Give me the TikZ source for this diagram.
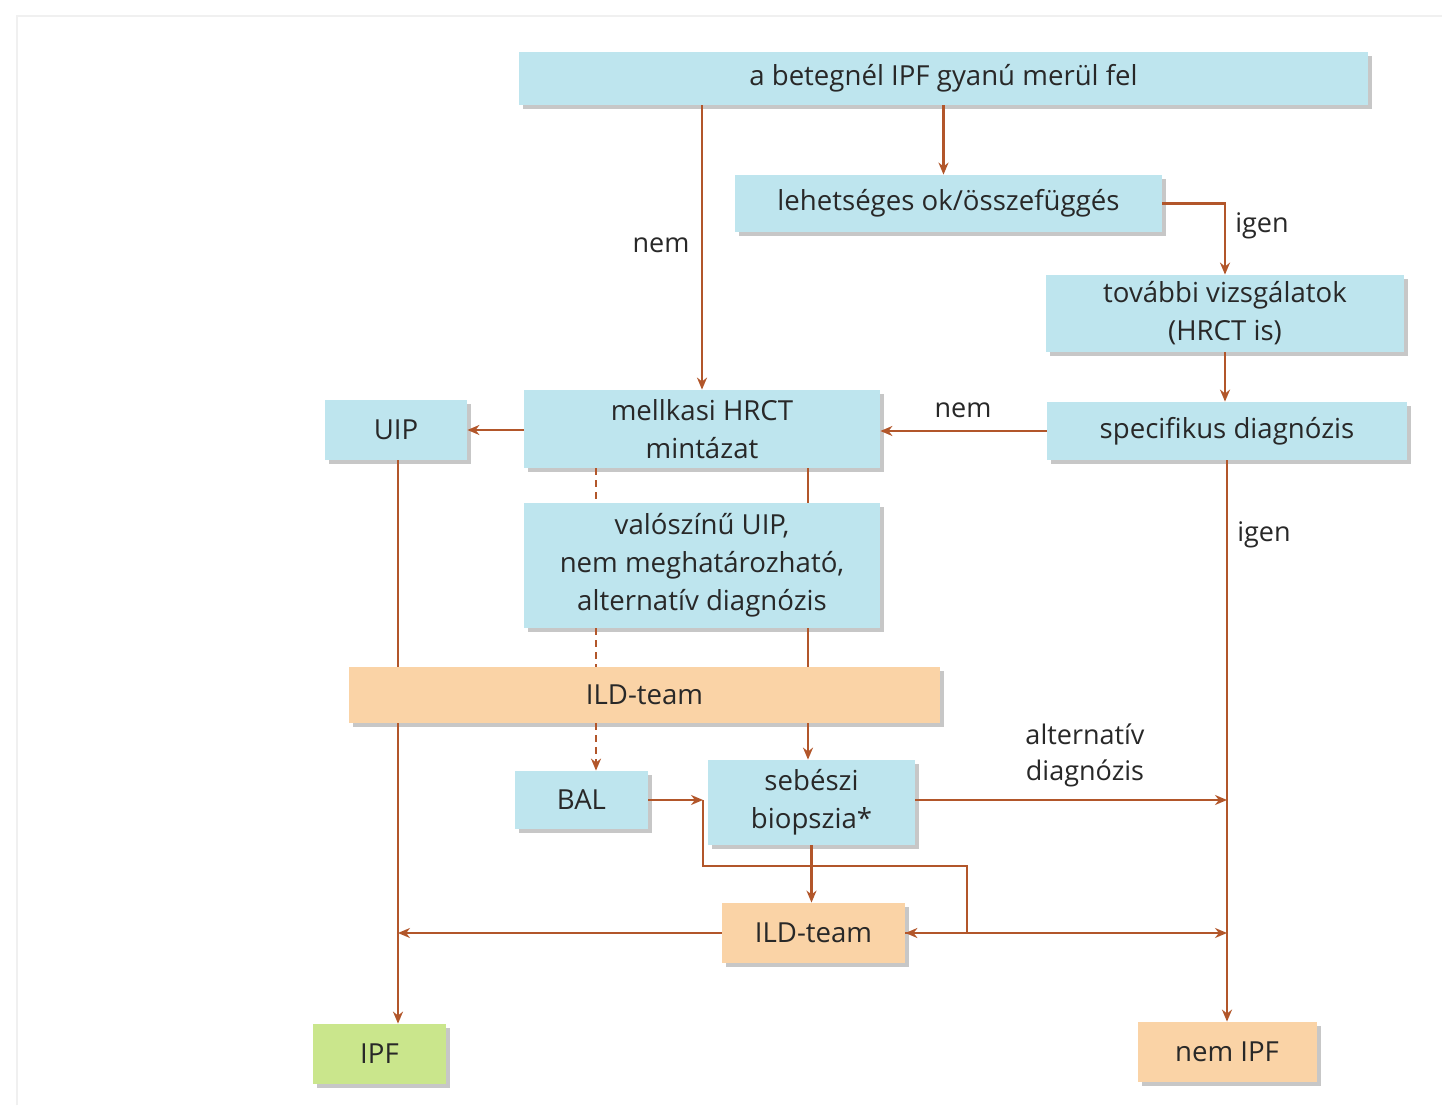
\documentclass[tikz,border=0pt]{standalone}
\usepackage{fontspec}
\setmainfont{Open Sans}
\usetikzlibrary{arrows.meta,shadows}
\definecolor{boxblue}{RGB}{190,229,238}
\definecolor{boxorange}{RGB}{250,211,166}
\definecolor{boxgreen}{RGB}{202,230,140}
\definecolor{linebrown}{RGB}{178,86,42}
\definecolor{txt}{RGB}{40,40,40}
\tikzset{
  base/.style={rectangle, inner sep=0pt, align=center, text=txt,
    font=\fontsize{13.8}{19}\selectfont,
    drop shadow={shadow xshift=2pt, shadow yshift=-2pt, fill=gray!55, opacity=0.8}},
  bluebox/.style={base, fill=boxblue},
  orangebox/.style={base, fill=boxorange},
  greenbox/.style={base, fill=boxgreen},
  conn/.style={draw=linebrown, line width=1.4pt},
  arr/.style={conn, -{Stealth[length=6pt,width=5pt]}},
  dconn/.style={conn, dash pattern=on 3.5pt off 2.5pt},
  darr/.style={dconn, -{Stealth[length=6pt,width=5pt]}},
  lbl/.style={text=txt, font=\fontsize{13.5}{18}\selectfont, align=center, inner sep=0pt}
}
\begin{document}
\begin{tikzpicture}[x=0.5pt,y=-0.5pt]
\useasboundingbox (0,0) rectangle (1442,1112);
\fill[white] (0,0) rectangle (1442,1112);
\draw[gray!12, line width=1pt] (17,1105) -- (17,16) -- (1442,16);

% nodes
\node[bluebox, minimum width=424.5pt, minimum height=26.5pt] (top) at (943.5,78.5) {a betegnél IPF gyanú merül fel};
\node[bluebox, minimum width=213.5pt, minimum height=28.5pt] (lehet) at (948.5,203.5) {lehetséges ok/összefüggés};
\node[bluebox, minimum width=179pt, minimum height=38.5pt] (tov) at (1225,313.5) {további vizsgálatok\\(HRCT is)};
\node[bluebox, minimum width=180pt, minimum height=29pt] (spec) at (1227,431) {specifikus diagnózis};
\node[bluebox, minimum width=178pt, minimum height=39pt] (mell) at (702,429) {mellkasi HRCT\\mintázat};
\node[bluebox, minimum width=71pt, minimum height=30pt] (uip) at (396,430) {UIP};
\node[bluebox, minimum width=178pt, minimum height=62.5pt] (val) at (702,565.5) {valószínű UIP,\\nem meghatározható,\\alternatív diagnózis};
\node[orangebox, minimum width=295.5pt, minimum height=28pt] (ild) at (644.5,695) {ILD-team};
\node[bluebox, minimum width=66.5pt, minimum height=29pt] (bal) at (581.5,800) {BAL};
\node[bluebox, minimum width=103.5pt, minimum height=42.5pt] (seb) at (811.5,802.5) {sebészi\\biopszia*};
\node[orangebox, minimum width=91.5pt, minimum height=30pt] (ilds) at (813.5,933) {ILD-team};
\node[greenbox, minimum width=66.5pt, minimum height=30pt] (ipf) at (379.5,1054) {IPF};
\node[orangebox, minimum width=89.5pt, minimum height=30pt] (nemipf) at (1227,1052) {nem IPF};

% helper coordinates
\coordinate (dx) at (596,0);
\coordinate (sx) at (808,0);
\coordinate (lx) at (398,0);
\coordinate (j1) at (703,800);
\coordinate (j2) at (967,866);

% connectors
\draw[arr] (top.south) -- (top.south |- lehet.north);
\draw[arr] (mell.north |- top.south) -- (mell.north);
\draw[arr] (lehet.east) -| (tov.north);
\draw[arr] (tov.south) -- (tov.south |- spec.north);
\draw[arr] (spec.west) -- (spec.west -| mell.east);
\draw[arr] (mell.west |- uip.east) -- (uip.east);
\draw[arr] (spec.south) -- (spec.south |- nemipf.north);
\draw[conn] (lx |- uip.south) -- (lx |- ild.north);
\draw[arr] (lx |- ild.south) -- (lx |- ipf.north);
\draw[dconn] (dx |- mell.south) -- (dx |- val.north);
\draw[conn] (sx |- mell.south) -- (sx |- val.north);
\draw[dconn] (dx |- val.south) -- (dx |- ild.north);
\draw[conn] (sx |- val.south) -- (sx |- ild.north);
\draw[darr] (dx |- ild.south) -- (dx |- bal.north);
\draw[arr] (sx |- ild.south) -- (sx |- seb.north);
\draw[arr] (bal.east) -- (j1);
\draw[arr] (j1) |- (j2) |- (ilds.east);
\draw[arr] (seb.south) -- (seb.south |- ilds.north);
\draw[arr] (ilds.west) -- (lx |- ilds.west);
\draw[arr] (ilds.east) -- (spec.south |- ilds.east);
\draw[arr] (seb.east |- j1) -- (spec.south |- j1);

% labels
\node[lbl] (l1) at (661,245) {nem};
\node[lbl] (l2) at (1262,226) {igen};
\node[lbl] (l3) at (963,410) {nem};
\node[lbl] (l4) at (1264,535) {igen};
\node[lbl] (l5) at (1085,755) {alternatív\\diagnózis};
\end{tikzpicture}
\end{document}
